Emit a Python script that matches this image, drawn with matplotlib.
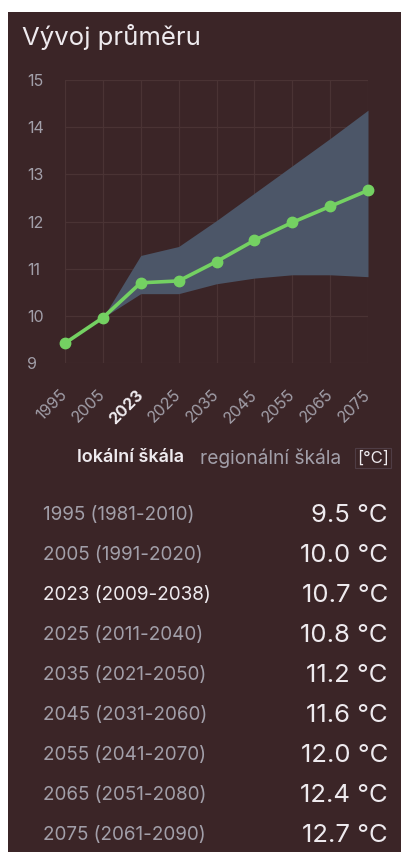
import matplotlib.pyplot as plt
from matplotlib.patches import Rectangle

plt.rcParams['font.family'] = ['Inter', 'DejaVu Sans']

# data
years = ['1995', '2005', '2023', '2025', '2035', '2045', '2055', '2065', '2075']
periods = ['1981-2010', '1991-2020', '2009-2038', '2011-2040', '2021-2050',
           '2031-2060', '2041-2070', '2051-2080', '2061-2090']
mean_local = [9.42, 9.96, 10.70, 10.74, 11.15, 11.60, 11.98, 12.32, 12.66]
band_low = [9.42, 9.96, 10.47, 10.47, 10.68, 10.80, 10.87, 10.87, 10.83]
band_high = [9.42, 9.96, 11.28, 11.47, 12.02, 12.60, 13.18, 13.76, 14.36]
table_values = ['9.5', '10.0', '10.7', '10.8', '11.2', '11.6', '12.0', '12.4', '12.7']
highlight = '2023'

W, H = 401, 852
BG = '#3b2527'
GRID = '#4a3334'
BAND = '#4c5668'
LINE = '#74d162'
GREY = '#a29fa9'
WHITE = '#eeeaee'


def fx(px):
    return px / W


def fy(py):
    return 1 - py / H


fig = plt.figure(figsize=(W / 100, H / 100), dpi=100, facecolor='white')
fig.patches.append(Rectangle((fx(8), 0), 1 - fx(8), fy(12), transform=fig.transFigure,
                             facecolor=BG, edgecolor='none', zorder=-10))

fig.text(fx(22), fy(37), 'Vývoj průměru', color=WHITE, fontsize=18.5,
         ha='left', va='center')

ax = fig.add_axes([fx(65), fy(363), fx(368) - fx(65), fy(80) - fy(363)])
ax.set_facecolor('none')
x = list(range(len(years)))
ax.fill_between(x, band_low, band_high, color=BAND, lw=0, zorder=2)
ax.plot(x, mean_local, color=LINE, lw=2.6, marker='o', ms=7.5, zorder=3, clip_on=False)

ax.set_xlim(0, len(years) - 1)
ax.set_ylim(9, 15)
ax.set_yticks(range(9, 16))
ax.set_xticks(x)
ax.set_xticklabels(years)
ax.grid(True, color=GRID, lw=0.9, zorder=1)
ax.set_axisbelow(True)
for s in ax.spines.values():
    s.set_visible(False)
ax.tick_params(length=0)
ax.tick_params(axis='y', pad=27, labelsize=11.5, labelcolor=GREY)
ax.tick_params(axis='x', pad=21, labelsize=11.5, labelcolor=GREY)
for lab in ax.get_yticklabels():
    lab.set_horizontalalignment('left')
for lab in ax.get_xticklabels():
    lab.set_rotation(45)
    lab.set_rotation_mode('anchor')
    lab.set_ha('right')
    lab.set_va('center')
    if lab.get_text() == highlight:
        lab.set_color(WHITE)
        lab.set_fontweight('bold')

# legend row
fig.text(fx(77), fy(458), 'lokální škála', color=WHITE, fontsize=13,
         fontweight='semibold', ha='left', va='center')
fig.text(fx(200), fy(458), 'regionální škála', color=GREY, fontsize=13.8,
         ha='left', va='center')
fig.text(fx(373), fy(458), '[°C]', color=WHITE, fontsize=12, ha='center', va='center',
         bbox=dict(boxstyle='square,pad=0.15', facecolor='none', edgecolor='#4f3d45', lw=0.8))

# table
for i, (yr, per, val) in enumerate(zip(years, periods, table_values)):
    yy = fy(515 + 40 * i)
    c = WHITE if yr == highlight else GREY
    fig.text(fx(43), yy, f'{yr} ({per})', color=c, fontsize=13.6, ha='left', va='center')
    fig.text(fx(388), yy, f'{val} °C', color=WHITE, fontsize=18.5, ha='right', va='center')

fig.savefig('out.png', dpi=100, facecolor=fig.get_facecolor())
